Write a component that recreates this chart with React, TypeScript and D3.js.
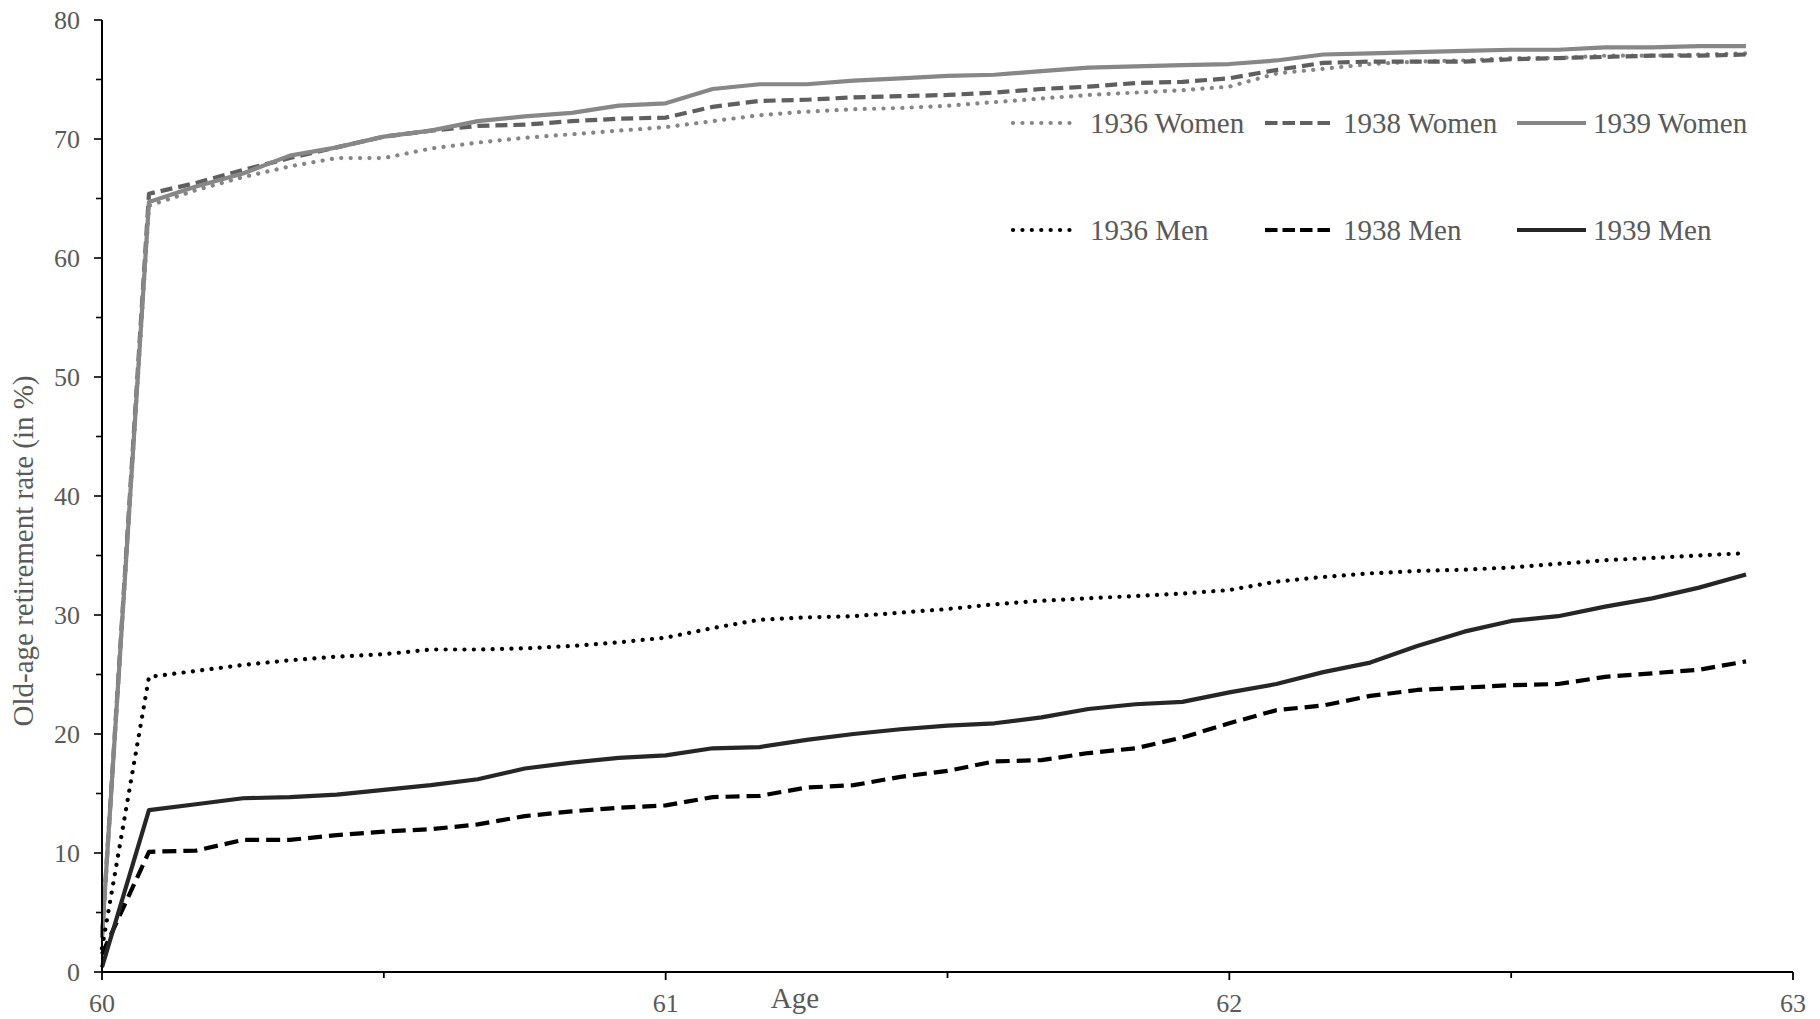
import React from "react";
import * as d3 from "d3";

// months since age 60 (0..35)
const months: number[] = Array.from({ length: 36 }, (_, i) => i);

const women1936: number[] = [3, 64.4, 65.7, 66.8, 67.7, 68.4, 68.4, 69.2, 69.7, 70.1, 70.4, 70.7, 71.0, 71.5, 72.0, 72.3, 72.5, 72.6, 72.8, 73.1, 73.4, 73.7, 73.9, 74.1, 74.4, 75.5, 75.9, 76.3, 76.5, 76.6, 76.8, 76.8, 77.0, 77.0, 77.1, 77.2];
const women1938: number[] = [3, 65.4, 66.3, 67.4, 68.4, 69.3, 70.2, 70.7, 71.1, 71.2, 71.5, 71.7, 71.8, 72.7, 73.2, 73.3, 73.5, 73.6, 73.7, 73.9, 74.2, 74.4, 74.7, 74.8, 75.1, 75.8, 76.4, 76.5, 76.5, 76.5, 76.7, 76.8, 76.9, 77.0, 77.0, 77.1];
const women1939: number[] = [3, 64.7, 66.0, 67.1, 68.6, 69.3, 70.2, 70.7, 71.5, 71.9, 72.2, 72.8, 73.0, 74.2, 74.6, 74.6, 74.9, 75.1, 75.3, 75.4, 75.7, 76.0, 76.1, 76.2, 76.3, 76.6, 77.1, 77.2, 77.3, 77.4, 77.5, 77.5, 77.7, 77.7, 77.8, 77.8];
const men1936: number[] = [2, 24.8, 25.3, 25.8, 26.2, 26.5, 26.7, 27.1, 27.1, 27.2, 27.4, 27.7, 28.1, 28.9, 29.6, 29.8, 29.9, 30.2, 30.5, 30.9, 31.2, 31.4, 31.6, 31.8, 32.1, 32.8, 33.2, 33.5, 33.7, 33.8, 34.0, 34.3, 34.6, 34.8, 35.0, 35.2];
const men1938: number[] = [1.5, 10.1, 10.2, 11.1, 11.1, 11.5, 11.8, 12.0, 12.4, 13.1, 13.5, 13.8, 14.0, 14.7, 14.8, 15.5, 15.7, 16.4, 16.9, 17.7, 17.8, 18.4, 18.8, 19.7, 20.9, 22.0, 22.4, 23.2, 23.7, 23.9, 24.1, 24.2, 24.8, 25.1, 25.4, 26.1];
const men1939: number[] = [0.4, 13.6, 14.1, 14.6, 14.7, 14.9, 15.3, 15.7, 16.2, 17.1, 17.6, 18.0, 18.2, 18.8, 18.9, 19.5, 20.0, 20.4, 20.7, 20.9, 21.4, 22.1, 22.5, 22.7, 23.5, 24.2, 25.2, 26.0, 27.4, 28.6, 29.5, 29.9, 30.7, 31.4, 32.3, 33.4];

const xTicks: number[] = [60, 60.5, 61, 61.5, 62, 62.5, 63];
const xTickLabels: number[] = [60, 61, 62, 63];
const yTicks: number[] = d3.range(0, 81, 5);
const yTickLabels: number[] = [0, 10, 20, 30, 40, 50, 60, 70, 80];

const seriesNames: string[] = ["1936 Women", "1938 Women", "1939 Women", "1936 Men", "1938 Men", "1939 Men"];
const seriesValues: number[][] = [women1936, women1938, women1939, men1936, men1938, men1939];

type Style = { color: string; width: number; dash: string | null; cap: "round" | "butt"; legendDash: string | null };
const styles: Style[] = [
  { color: "#858585", width: 4.2, dash: "0.1 9.3", cap: "round", legendDash: "0.1 9.3" },
  { color: "#5f5f5f", width: 4.2, dash: "12 6", cap: "butt", legendDash: "12.5 5" },
  { color: "#878787", width: 4.2, dash: null, cap: "butt", legendDash: null },
  { color: "#000000", width: 4.2, dash: "0.1 9.3", cap: "round", legendDash: "0.1 9.3" },
  { color: "#000000", width: 4.2, dash: "14 7", cap: "butt", legendDash: "12.5 5" },
  { color: "#262626", width: 4.2, dash: null, cap: "butt", legendDash: null },
];

const W = 1820;
const H = 1019;
const FONT = "'Liberation Serif', 'Times New Roman', serif";
const TEXT = "#595959";

export default function App() {
  const x = d3.scaleLinear().domain([60, 63]).range([102, 1793]);
  const y = d3.scaleLinear().domain([0, 80]).range([972, 20]);
  const line = d3
    .line<number>()
    .x((_, i) => x(60 + months[i] / 12))
    .y((d) => y(d));

  const legendCols = [
    { x1: 1013, x2: 1073, tx: 1090 },
    { x1: 1265, x2: 1334, tx: 1343 },
    { x1: 1517, x2: 1586, tx: 1593 },
  ];
  const legendRows = [123, 230];

  return (
    <svg
      width={W}
      height={H}
      viewBox={`0 0 ${W} ${H}`}
      style={{ position: "absolute", left: 0, top: 0, background: "#fff" }}
    >
      <rect width={W} height={H} fill="#fff" />
      {seriesValues.map((vals, i) => {
        const s = styles[i];
        return (
          <path
            key={seriesNames[i]}
            d={line(vals) || ""}
            fill="none"
            stroke={s.color}
            strokeWidth={s.width}
            strokeDasharray={s.dash || undefined}
            strokeLinecap={s.cap}
            strokeLinejoin="round"
          />
        );
      })}
      <line x1={x(60)} x2={x(60)} y1={y(80)} y2={y(0)} stroke="#000" strokeWidth={2} />
      <line x1={x(60)} x2={x(63)} y1={y(0)} y2={y(0)} stroke="#000" strokeWidth={2.2} />
      {yTicks.map((t) => (
        <line key={"yt" + t} x1={x(60) - (t % 10 === 0 ? 8 : 6)} x2={x(60)} y1={y(t)} y2={y(t)} stroke="#000" strokeWidth={1.6} />
      ))}
      {xTicks.map((t) => (
        <line key={"xt" + t} x1={x(t)} x2={x(t)} y1={y(0)} y2={y(0) + (Number.isInteger(t) ? 8 : 6)} stroke="#000" strokeWidth={1.8} />
      ))}
      {yTickLabels.map((t) => (
        <text key={"yl" + t} x={80} y={y(t) + 8.5} textAnchor="end" fontFamily={FONT} fontSize={26} fill={TEXT}>
          {t}
        </text>
      ))}
      {xTickLabels.map((t) => (
        <text key={"xl" + t} x={x(t)} y={1012} textAnchor="middle" fontFamily={FONT} fontSize={26} fill={TEXT}>
          {t}
        </text>
      ))}
      <text x={795} y={1008} textAnchor="middle" fontFamily={FONT} fontSize={29} fill={TEXT}>
        Age
      </text>
      <text
        transform={`translate(33, 551) rotate(-90)`}
        textAnchor="middle"
        fontFamily={FONT}
        fontSize={29}
        fill={TEXT}
      >
        Old-age retirement rate (in %)
      </text>
      {seriesNames.map((name, i) => {
        const col = legendCols[i % 3];
        const row = legendRows[Math.floor(i / 3)];
        const s = styles[i];
        return (
          <g key={"lg" + name}>
            <line
              x1={col.x1}
              x2={col.x2}
              y1={row}
              y2={row}
              stroke={s.color}
              strokeWidth={s.width}
              strokeDasharray={s.legendDash || undefined}
              strokeLinecap={s.cap}
            />
            <text x={col.tx} y={row + 10} fontFamily={FONT} fontSize={29} fill={TEXT}>
              {name}
            </text>
          </g>
        );
      })}
    </svg>
  );
}
